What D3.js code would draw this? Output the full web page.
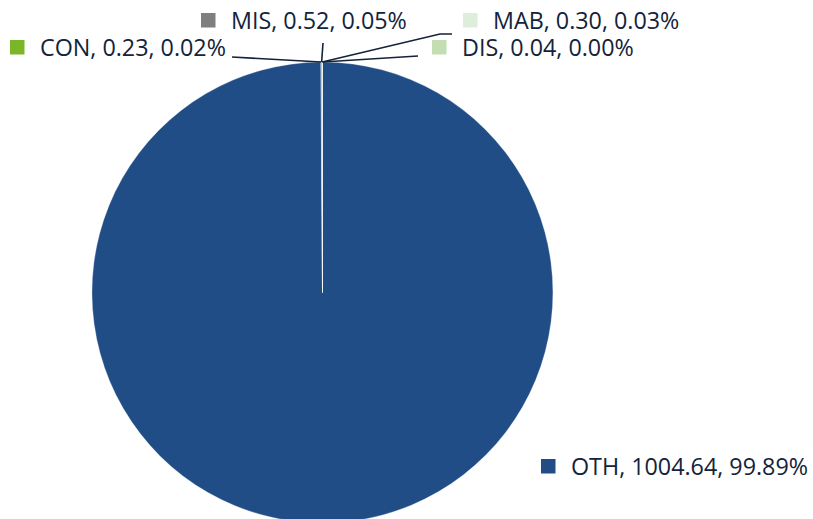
<!DOCTYPE html>
<html>
<head>
<meta charset="utf-8">
<script src="https://cdn.jsdelivr.net/npm/d3@7"></script>
<style>
  body { margin: 0; background: #fff; }
  svg { display: block; font-family: "Open Sans", Lato, sans-serif; }
</style>
</head>
<body>
<svg id="chart" width="813" height="519"></svg>
<script>
// data
var categories = ["OTH", "CON", "MIS", "MAB", "DIS"];
var values = [1004.64, 0.23, 0.52, 0.30, 0.04];
var percents = ["99.89%", "0.02%", "0.05%", "0.03%", "0.00%"];
var colors = ["#214d87", "#7ab628", "#7f7f7f", "#dfeedb", "#c3dfb1"];

// label spots (marker left x, text baseline y) and leader elbow
var labelPos = [
  {x: 541, y: 475, line: null},
  {x: 10, y: 56, line: [[232, 57]]},
  {x: 201, y: 29, line: [[323, 43]]},
  {x: 463, y: 29, line: [[440, 34], [452, 34]]},
  {x: 432, y: 56, line: [[418, 56]]}
];

var cx = 322.5, cy = 292.5, radius = 230.5;

var svg = d3.select("#chart");
var g = svg.append("g").attr("transform", "translate(" + cx + "," + cy + ")");

var pie = d3.pie().sort(null).value(function(d) { return d; });
var arc = d3.arc().innerRadius(0).outerRadius(radius);
var arcs = pie(values);

g.selectAll("path")
  .data(arcs)
  .enter()
  .append("path")
    .attr("d", arc)
    .attr("fill", function(d, i) { return colors[i]; })
    .attr("stroke", "#fff")
    .attr("stroke-width", 0.3);

// leader lines from slice edge to label
var line = d3.line();
arcs.forEach(function(d, i) {
  var p = labelPos[i];
  if (!p.line) return;
  var mid = (d.startAngle + d.endAngle) / 2;
  var start = [cx + Math.sin(mid) * radius, cy - Math.cos(mid) * radius];
  svg.append("path")
    .attr("d", line([start].concat(p.line)))
    .attr("fill", "none")
    .attr("stroke", "#13233a")
    .attr("stroke-width", 1.6);
});

// labels
var lab = svg.selectAll("g.lab")
  .data(categories)
  .enter()
  .append("g")
    .attr("class", "lab");

lab.append("rect")
  .attr("x", function(d, i) { return labelPos[i].x; })
  .attr("y", function(d, i) { return labelPos[i].y - 16; })
  .attr("width", 14.5)
  .attr("height", 14.5)
  .attr("fill", function(d, i) { return colors[i]; });

lab.append("text")
  .attr("x", function(d, i) { return labelPos[i].x + 30; })
  .attr("y", function(d, i) { return labelPos[i].y; })
  .attr("font-size", 23.3)
  .attr("fill", "#13233a")
  .text(function(d, i) { return d + ", " + values[i].toFixed(2) + ", " + percents[i]; });
</script>
</body>
</html>
